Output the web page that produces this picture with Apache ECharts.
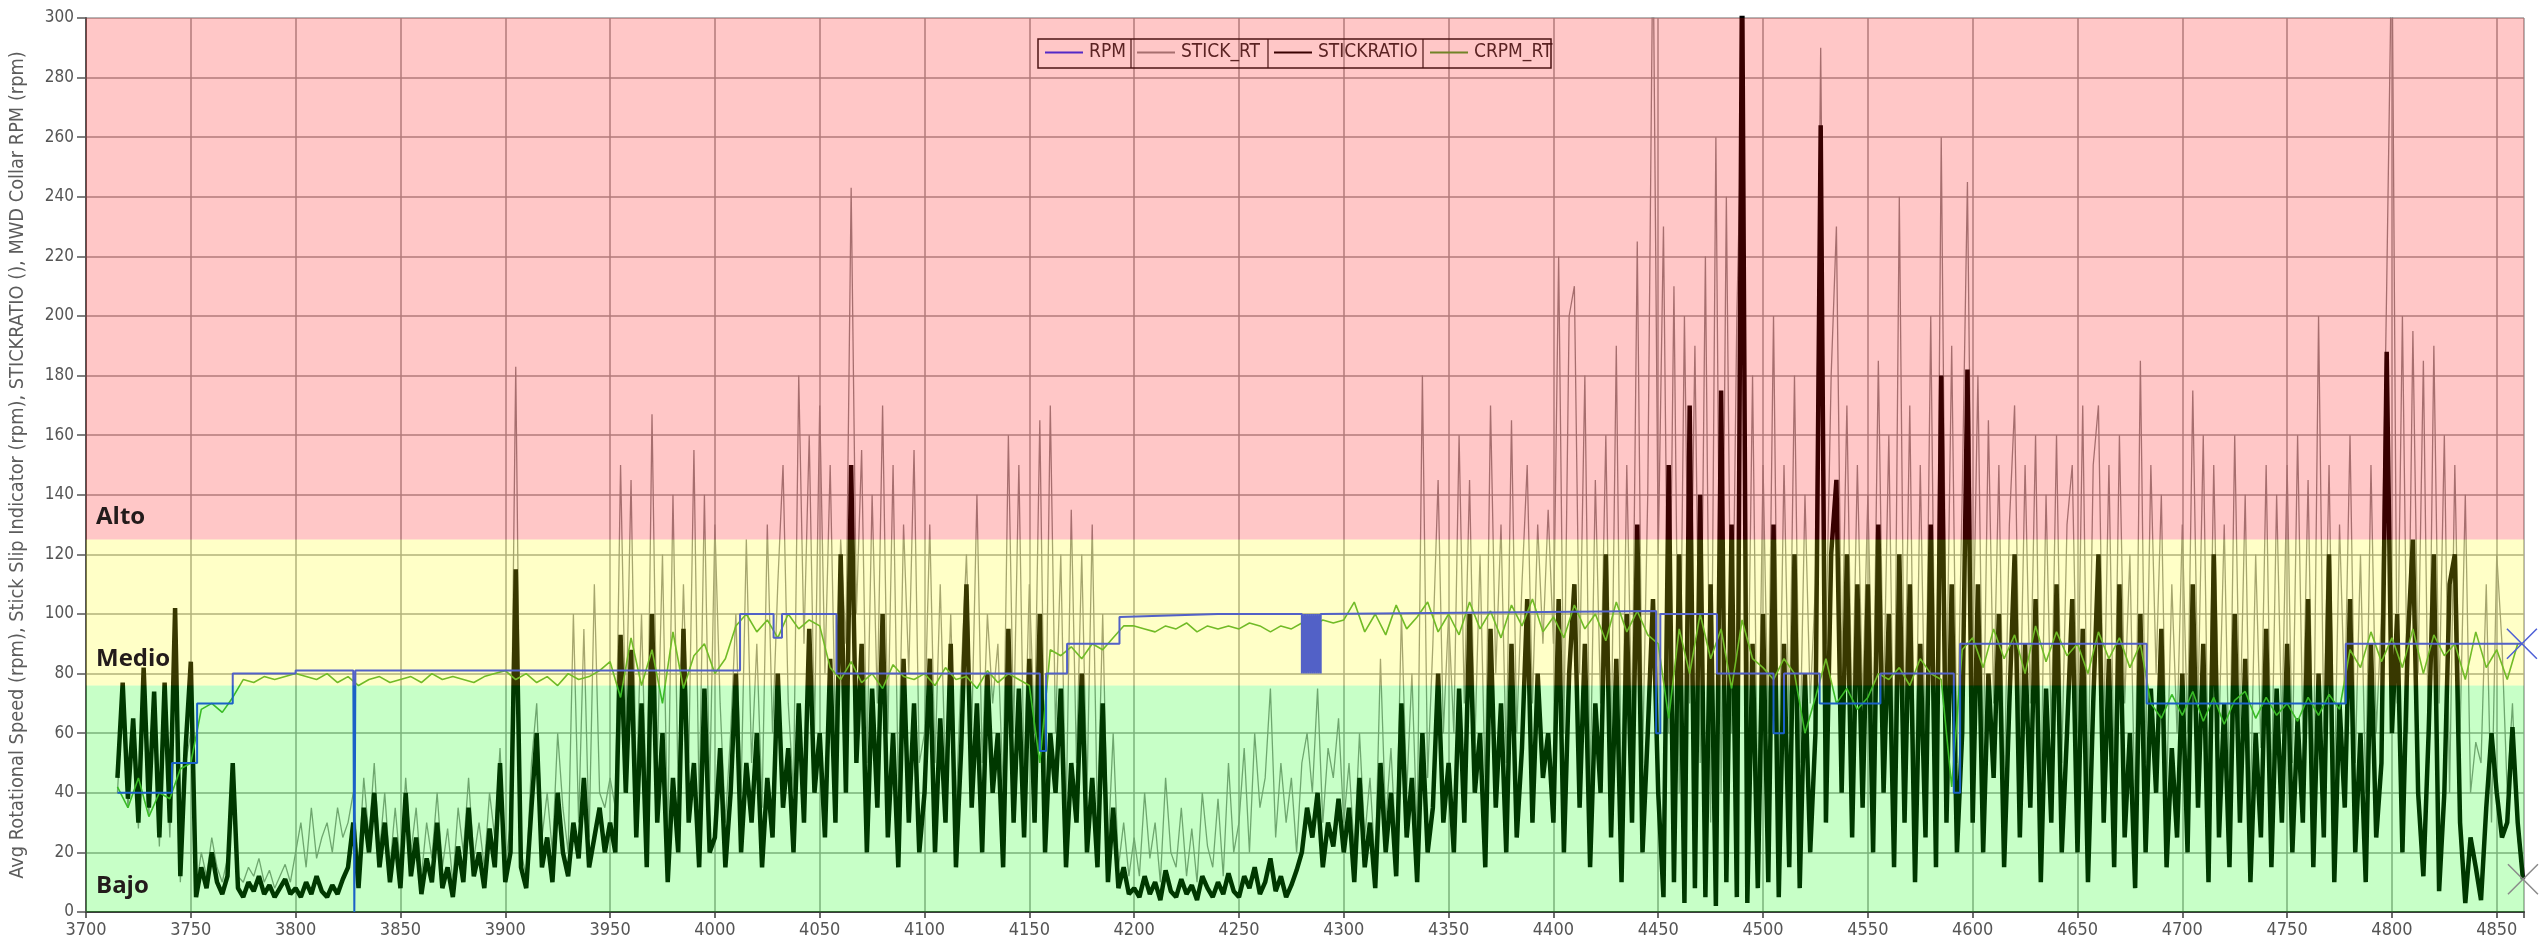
<!DOCTYPE html>
<html>
<head>
<meta charset="utf-8">
<script src="https://cdn.jsdelivr.net/npm/echarts@6/dist/echarts.min.js"></script>
<style>
  html, body { margin: 0; padding: 0; background: #ffffff; }
  #chart { width: 2539px; height: 942px; }
</style>
</head>
<body>
<div id="chart"></div>
<script>
// Depth sampling of the logged channels (m)
const DEPTH_START = 3700;
const DEPTH_STEP = 2.5;     // STICKRATIO / STICK_RT spacing
const CRPM_STEP = 5;        // CRPM_RT spacing

// Axis ranges and tick spacing
const depthMin = 3700;
const depthMax = 4863;
const depthTick = 50;
const rpmMin = 0;
const rpmMax = 300;
const rpmTick = 20;

// Stick-slip zones: lower bounds and names
const zoneNames = ['Bajo', 'Medio', 'Alto'];
const zoneBounds = [0, 76, 125, 300];

const seriesNames = ['RPM', 'STICK_RT', 'STICKRATIO', 'CRPM_RT'];

// STICKRATIO, one value per 2.5 m from 3700
const stickRatio = [
  null,null,null,null,null,null,45,77,38,65,30,82,35,74,25,77,30,102,12,55,
  84,5,15,8,20,10,6,12,50,8,5,10,7,12,6,9,5,8,11,6,
  8,5,10,6,12,7,5,9,6,11,15,30,8,35,20,40,15,30,10,25,
  8,40,12,25,6,18,10,30,8,15,5,22,10,35,12,20,8,28,15,50,
  10,20,115,15,8,35,60,15,25,10,40,20,12,30,18,45,15,25,35,20,
  30,20,93,40,88,25,70,15,100,30,60,10,45,20,95,30,50,15,75,20,
  25,55,15,40,80,20,50,30,60,15,45,25,80,35,55,20,70,30,95,40,
  60,25,85,30,120,40,150,50,90,20,75,35,100,25,60,15,85,30,70,20,
  40,85,20,65,30,90,15,55,110,35,70,20,80,40,60,15,95,30,75,25,
  85,30,100,20,60,40,75,15,50,30,80,20,45,15,70,10,35,8,15,6,
  8,5,12,6,10,4,14,7,5,11,6,9,4,12,8,5,10,6,13,7,
  5,12,8,15,6,10,18,7,12,5,9,14,20,35,25,40,15,30,22,38,
  20,35,10,45,15,30,8,50,20,40,12,70,25,45,10,60,20,35,80,30,
  50,20,75,30,100,40,60,15,95,35,70,20,90,25,55,105,30,80,45,60,
  30,105,20,80,110,35,90,15,70,40,120,25,85,10,100,30,130,20,60,105,
  40,5,150,10,120,3,170,8,140,5,110,2,175,10,130,5,320,3,90,8,
  100,10,130,5,90,15,120,8,80,20,60,264,30,120,145,40,120,25,110,35,
  110,20,130,40,100,15,120,30,110,10,90,25,130,15,180,30,110,20,60,182,
  30,110,20,80,45,100,15,70,120,25,90,35,105,10,75,30,110,20,60,105,
  20,95,10,70,120,30,85,15,110,25,60,8,100,20,75,40,95,15,55,25,
  80,20,110,35,90,10,120,25,70,15,100,30,85,10,60,25,95,15,75,30,
  90,20,65,30,105,15,80,25,120,10,70,35,105,20,60,10,90,25,50,188,
  60,100,20,90,125,40,12,60,120,7,40,110,120,30,3,25,15,4,35,60,
  40,25,30,62,30,11
];

// STICK_RT, one value per 2.5 m from 3700
const stickRt = [
  null,null,null,null,null,null,40,72,35,60,28,75,33,70,22,70,25,90,10,50,
  60,8,20,12,25,15,10,18,40,12,10,15,12,18,10,14,8,12,16,10,
  20,30,15,35,18,25,30,20,35,25,30,40,15,45,25,50,20,40,15,35,
  15,45,20,35,12,30,18,40,15,28,10,35,20,45,18,30,15,40,25,55,
  15,30,183,20,12,50,70,25,40,20,60,35,20,100,30,95,25,110,40,35,
  45,35,150,60,145,40,100,30,167,50,120,25,140,40,110,50,155,35,140,40,
  130,70,30,60,100,40,125,50,90,35,130,60,110,150,70,40,180,90,160,60,
  170,80,150,60,125,90,243,100,155,50,140,70,170,60,150,40,130,80,155,50,
  60,130,50,110,45,100,35,80,120,60,140,50,100,70,90,40,160,60,150,45,
  110,60,165,40,170,60,120,30,135,50,120,40,130,30,100,20,60,15,30,12,
  25,12,40,18,30,10,45,20,15,35,12,28,10,40,22,15,38,12,50,20,
  30,55,20,60,35,45,75,25,50,30,45,20,50,60,40,75,30,55,45,65,
  30,50,20,60,25,45,15,85,30,55,20,100,40,80,25,180,45,90,145,60,
  100,60,160,70,145,55,120,40,170,80,130,50,165,60,110,150,70,130,90,135,
  90,220,60,200,210,80,180,40,145,70,160,50,190,30,150,60,225,50,140,330,
  120,230,60,210,40,200,70,190,50,220,30,260,40,240,60,200,280,50,180,30,
  150,60,200,40,150,60,180,50,140,70,110,290,90,180,230,80,170,60,150,70,
  140,60,185,70,160,40,240,60,170,30,150,50,200,40,260,70,190,50,140,245,
  80,180,50,165,70,150,40,130,170,60,150,70,160,40,140,60,160,50,130,150,
  60,170,40,150,170,60,150,45,160,70,120,30,185,50,150,80,140,40,110,60,
  130,60,175,70,160,40,150,60,130,40,160,60,140,35,120,55,150,40,140,60,
  150,50,160,60,145,40,200,60,150,40,130,70,160,50,120,40,150,60,100,210,
  330,70,200,60,195,80,185,50,190,70,160,40,150,60,140,40,57,50,110,30,
  120,90,40,70,25,12
];

// CRPM_RT, one value per 5 m from 3700
const crpmRt = [
  null,null,null,42,35,45,32,40,38,48,
  50,68,70,67,72,78,77,79,78,79,
  80,79,78,80,77,79,76,78,79,77,
  78,79,77,80,78,79,78,77,79,80,
  81,78,80,77,79,76,80,78,79,81,
  84,72,92,76,88,70,94,75,86,90,
  80,85,96,100,94,98,92,100,95,98,
  96,82,78,84,77,80,75,83,79,78,
  80,76,82,78,79,75,81,77,80,78,
  76,50,88,86,89,85,90,88,92,96,
  96,95,94,96,95,97,94,96,95,96,
  95,97,96,94,96,95,97,96,98,97,
  98,104,94,100,93,103,95,99,104,94,
  100,93,104,95,101,92,103,96,105,94,
  99,92,103,95,100,91,104,94,101,93,
  90,65,95,80,100,85,95,75,98,85,
  82,78,85,80,60,72,85,70,75,68,
  72,80,78,82,76,85,80,78,42,88,
  92,82,95,85,93,80,96,84,94,86,
  90,80,94,85,92,82,90,70,65,73,
  66,74,64,72,63,71,74,65,72,66,
  70,64,72,66,73,68,88,82,94,84,
  92,82,95,80,93,86,90,78,94,82,
  88,78,90
];

// RPM set-point changes: [depth, rpm]
const rpm = [
  [3715,40],[3741,40],[3741,50],[3753,50],[3753,70],[3770,70],[3770,80],[3800,80],
  [3800,81],[3827.5,81],[3828,0],[3828.5,81],[4012,81],[4012,100],[4028,100],[4028,92],
  [4032,92],[4032,100],[4058,100],[4058,80],[4155,80],[4155,54],[4158,54],[4158,80],
  [4168,80],[4168,90],[4193,90],[4193,99],[4240,100],[4280,100],
  [4280,80],[4280.5,100],[4281,80],[4281.5,100],[4282,80],[4282.5,100],[4283,80],[4283.5,100],
  [4284,80],[4284.5,100],[4285,80],[4285.5,100],[4286,80],[4286.5,100],[4287,80],[4287.5,100],
  [4288,80],[4288.5,100],[4289,80],[4289,100],
  [4449,101],[4449,60],[4451,60],[4451,100],[4478,100],[4478,80],[4505,80],[4505,60],
  [4510,60],[4510,80],[4527,80],[4527,70],[4556,70],[4556,80],[4591,80],[4591,40],
  [4594,40],[4594,90],[4683,90],[4683,70],[4778,70],[4778,90],[4862,90]
];

function byDepth(values, step) {
  return values.map((v, i) => [DEPTH_START + i * step, v]);
}
const stickRatioData = byDepth(stickRatio, DEPTH_STEP);
const stickRtData = byDepth(stickRt, DEPTH_STEP);
const crpmData = byDepth(crpmRt, CRPM_STEP);

const condensed = "'DejaVu Sans Condensed', 'Liberation Sans', sans-serif";
const zoneColors = ['rgba(0,255,0,0.22)', 'rgba(255,255,0,0.22)', 'rgba(255,0,0,0.22)'];
const zoneLabelOffset = [-4, -4, 0];

const zoneAreas = zoneNames.map((name, i) => [
  {
    name: name,
    xAxis: depthMin,
    yAxis: zoneBounds[i],
    itemStyle: { color: zoneColors[i] },
    label: { offset: [0, zoneLabelOffset[i]] }
  },
  { xAxis: depthMax, yAxis: zoneBounds[i + 1] }
]);

const lastRpm = rpm[rpm.length - 1];
const lastRatio = stickRatioData[stickRatioData.length - 1];
const crossPath = 'path://M0,0L10,10M10,0L0,10';

// one legend block per channel, laid out in the boxed strip
const legendLeft = [1044, 1136, 1273, 1429];
const legends = seriesNames.map((name, i) => ({
  data: [name],
  left: legendLeft[i],
  top: 43,
  z: 4,
  padding: 0,
  itemWidth: 38,
  itemHeight: 14,
  itemStyle: { opacity: 0 },
  selectedMode: false,
  textStyle: { fontFamily: condensed, fontSize: 19, color: '#2e2e2e', padding: [0, 0, 0, 1] }
}));

const chart = echarts.init(document.getElementById('chart'), null, { renderer: 'canvas' });

chart.setOption({
  animation: false,
  backgroundColor: '#ffffff',
  grid: { left: 77, right: 15, top: 18, bottom: 30, containLabel: false },
  legend: legends,
  graphic: [
    { type: 'rect', z: 5, shape: { x: 1038, y: 39, width: 513, height: 29 },
      style: { fill: 'rgba(0,0,0,0)', stroke: '#1a1a1a', lineWidth: 1.5 } },
    { type: 'line', z: 5, shape: { x1: 1131, y1: 39, x2: 1131, y2: 68 }, style: { stroke: '#1a1a1a', lineWidth: 1.2 } },
    { type: 'line', z: 5, shape: { x1: 1268, y1: 39, x2: 1268, y2: 68 }, style: { stroke: '#1a1a1a', lineWidth: 1.2 } },
    { type: 'line', z: 5, shape: { x1: 1423, y1: 39, x2: 1423, y2: 68 }, style: { stroke: '#1a1a1a', lineWidth: 1.2 } }
  ],
  xAxis: {
    type: 'value',
    min: depthMin,
    max: depthMax,
    interval: depthTick,
    axisLine: { show: true, onZero: false, lineStyle: { color: '#3c3c3c', width: 2 } },
    axisTick: { show: true, length: 6, lineStyle: { color: '#3c3c3c', width: 1.5 } },
    axisLabel: {
      margin: 9,
      fontFamily: condensed, fontSize: 18, color: '#555555',
      formatter: v => (v % depthTick === 0 ? String(v) : '')
    },
    splitLine: { show: true, lineStyle: { color: '#9c9c9c', width: 1.5 } }
  },
  yAxis: {
    type: 'value',
    min: rpmMin,
    max: rpmMax,
    interval: rpmTick,
    name: 'Avg Rotational Speed (rpm), Stick Slip Indicator (rpm), STICKRATIO (), MWD Collar RPM (rpm)',
    nameLocation: 'middle',
    nameRotate: 90,
    nameGap: 58,
    nameTextStyle: { fontFamily: condensed, fontSize: 19.8, color: '#5c5c5c' },
    axisLine: { show: true, lineStyle: { color: '#555555', width: 2 } },
    axisTick: { show: true, length: 9, lineStyle: { color: '#555555', width: 1.5 } },
    axisLabel: { margin: 12, fontFamily: condensed, fontSize: 17, color: '#555555' },
    splitLine: { show: true, lineStyle: { color: '#9c9c9c', width: 1.5 } }
  },
  series: [
    {
      name: 'STICK_RT', type: 'line', z: 2, data: stickRtData,
      symbol: 'none', connectNulls: false,
      lineStyle: { color: '#8e8e8e', width: 1.3 }, itemStyle: { color: '#8e8e8e' }
    },
    {
      name: 'STICKRATIO', type: 'line', z: 3, data: stickRatioData,
      symbol: 'none',
      lineStyle: { color: '#000000', width: 4.5 }, itemStyle: { color: '#000000' },
      markPoint: {
        symbol: crossPath, symbolSize: 30, silent: true, z: 25,
        label: { show: false },
        itemStyle: { color: 'rgba(0,0,0,0)', borderColor: '#8a8a8a', borderWidth: 1.5 },
        data: [{ coord: lastRatio }]
      }
    },
    {
      name: 'CRPM_RT', type: 'line', z: 4, data: crpmData,
      symbol: 'none',
      lineStyle: { color: '#4aa832', width: 1.6 }, itemStyle: { color: '#4aa832' }
    },
    {
      name: 'RPM', type: 'line', z: 5, data: rpm,
      symbol: 'none',
      lineStyle: { color: '#2235ff', width: 2 }, itemStyle: { color: '#2235ff' },
      markPoint: {
        symbol: crossPath, symbolSize: 30, silent: true, z: 25,
        label: { show: false },
        itemStyle: { color: 'rgba(0,0,0,0)', borderColor: '#4d5fd6', borderWidth: 1.5 },
        data: [{ coord: lastRpm }]
      }
    },
    {
      name: 'zones', type: 'line', z: 20, data: [[depthMin, rpmMin]],
      symbol: 'none', lineStyle: { opacity: 0 }, silent: true,
      markArea: {
        silent: true,
        z: 20,
        label: {
          show: true,
          position: 'insideBottomLeft',
          distance: 10,
          fontFamily: "'Open Sans', 'DejaVu Sans', sans-serif",
          fontWeight: 'bold',
          fontSize: 24,
          color: '#231b1b'
        },
        data: zoneAreas
      }
    }
  ]
});
</script>
</body>
</html>
